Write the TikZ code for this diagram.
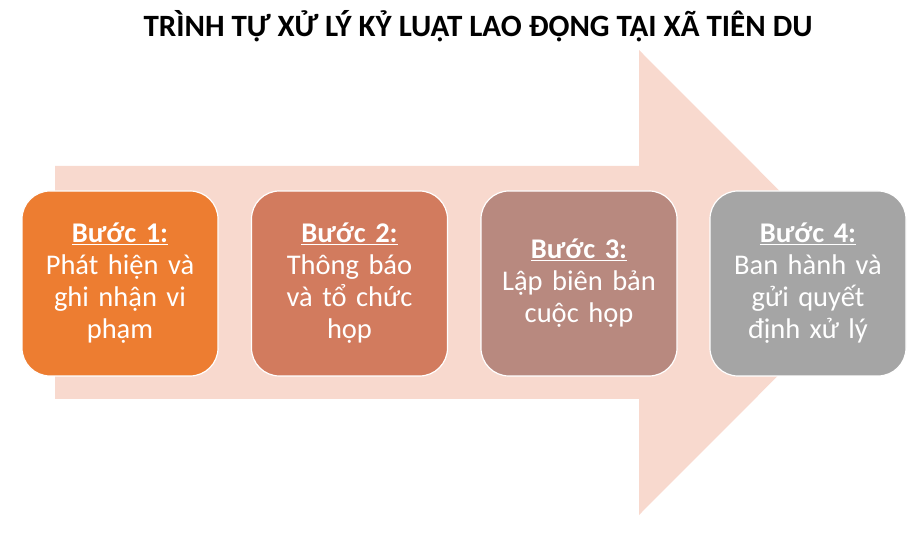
\documentclass[tikz,border=0pt]{standalone}
\usepackage{fontspec}
\setmainfont{Carlito}
\definecolor{arrowfill}{HTML}{F8D9CE}
\definecolor{cone}{HTML}{ED7D31}
\definecolor{ctwo}{HTML}{D27B5E}
\definecolor{cthree}{HTML}{B8897F}
\definecolor{cfour}{HTML}{A5A5A5}
\tikzset{
  stepbox/.style={draw=white, line width=1.2pt, rounded corners=28pt,
    minimum width=196pt, minimum height=185pt, text width=185pt,
    align=center, text=white, inner sep=0pt,
    font=\fontsize{28.5}{32}\selectfont},
  titlestyle/.style={font=\bfseries\fontsize{31}{36}\selectfont, text=black, inner sep=0pt}
}
\begin{document}
\begin{tikzpicture}[x=1pt,y=-1pt]
\useasboundingbox (0,0) rectangle (919,537);
\node[titlestyle, anchor=base] (title) at (478,37) {TRÌNH TỰ XỬ LÝ KỶ LUẬT LAO ĐỘNG TẠI XÃ TIÊN DU};
\fill[arrowfill] (55,166) -- (639,166) -- (639,50) -- (871,282.5) -- (639,515) -- (639,399) -- (55,399) -- cycle;
\node[stepbox, fill=cone] (s1) at (120,283.5) {\textbf{\underline{Bước 1:}}\\Phát hiện và\\ghi nhận vi\\phạm};
\node[stepbox, fill=ctwo] (s2) at (349.5,283.5) {\textbf{\underline{Bước 2:}}\\Thông báo\\và tổ chức\\họp};
\node[stepbox, fill=cthree] (s3) at (579,283.5) {\textbf{\underline{Bước 3:}}\\Lập biên bản\\cuộc họp};
\node[stepbox, fill=cfour] (s4) at (808,283.5) {\textbf{\underline{Bước 4:}}\\Ban hành và\\gửi quyết\\định xử lý};
\end{tikzpicture}
\end{document}
